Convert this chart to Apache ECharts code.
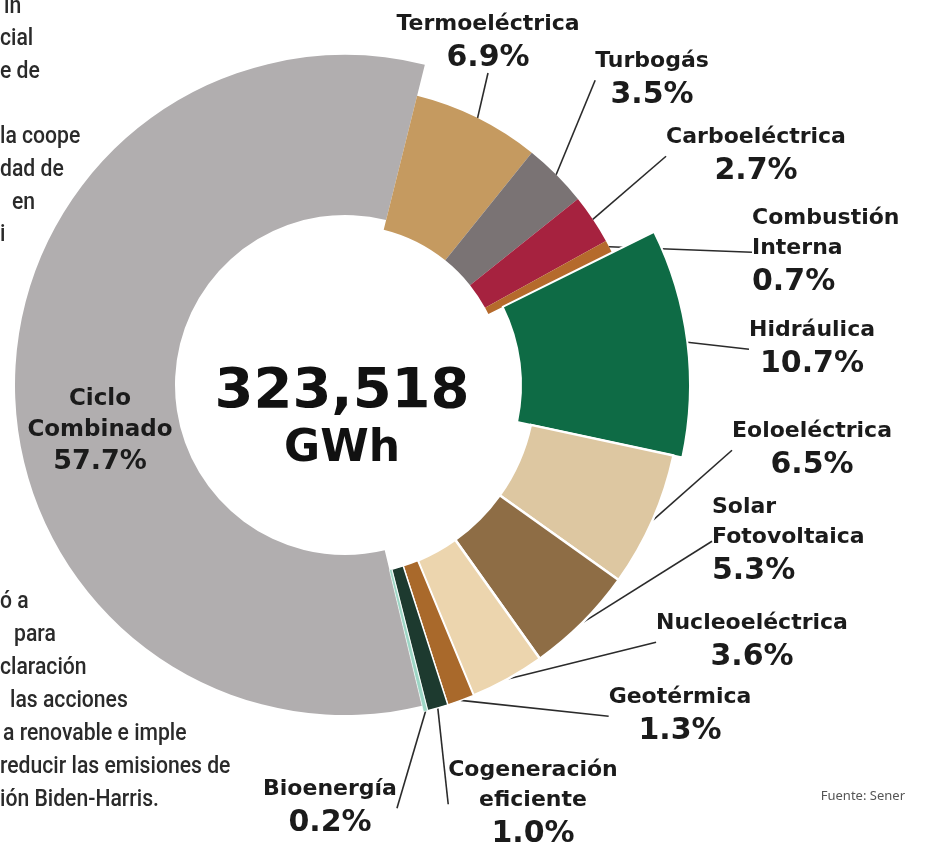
<!DOCTYPE html>
<html><head><meta charset="utf-8">
<script src="https://cdn.jsdelivr.net/npm/echarts@6/dist/echarts.min.js"></script>
<style>html,body{margin:0;padding:0;background:#fff}#chart{width:926px;height:848px}</style>
</head><body><div id="chart"></div>
<script>
// ---------- DATA ----------
const categories = ['Termoeléctrica','Turbogás','Carboeléctrica','Combustión Interna','Hidráulica','Eoloeléctrica','Solar Fotovoltaica','Nucleoeléctrica','Geotérmica','Cogeneración eficiente','Bioenergía','Ciclo Combinado'];
const shares = [6.9, 3.5, 2.7, 0.7, 10.7, 6.5, 5.3, 3.6, 1.3, 1.0, 0.2, 57.7];
const totalText = '323,518';
const unitText = 'GWh';
const sourceText = 'Fuente: Sener';
const columnTop = ['in','cial','e de','','la coope','dad de','en','i'];
const columnBottom = ['ó a','para','claración','las acciones','a renovable e imple','reducir las emisiones de','ión Biden-Harris.'];

// ---------- STYLE / LAYOUT ----------
const colors = ['#c59a60','#7a7374','#a6223f','#b56a2c','#0e6b45','#ddc7a1','#8e6d45','#ecd5ae','#a9692b','#1d3a2f','#9dd6c5','#b1aeaf'];
const lineBreaks = {'Combustión Interna':'Combustión\nInterna','Solar Fotovoltaica':'Solar\nFotovoltaica','Cogeneración eficiente':'Cogeneración\neficiente','Ciclo Combinado':'Ciclo\nCombinado'};
const labelSpots = [
  [488, 43, 'center'], [652, 80, 'center'], [756, 156, 'center'], [752, 252, 'left'],
  [812, 349, 'center'], [812, 450, 'center'], [712, 541, 'left'], [752, 642, 'center'],
  [680, 716, 'center'], [533, 804, 'center'], [330, 808, 'center'], [100, 431, 'center']
];
const borderOverride = {10: 0.6, 9: 1.5, 8: 1.5};
const rings = [
  {members:[11], radius:[170, 330], border:0},
  {members:[0,1,2,3], radius:[160, 298], border:0},
  {members:[4], radius:[176, 345], border:2},
  {members:[5,6,7,8,9,10], radius:[190, 336], border:2.5}
];
const center = [345, 385];
const FONT = 'DejaVu Sans';

function buildData(members){
  return categories.map((name, i) => {
    const vis = members.includes(i);
    const item = {name, value: shares[i]};
    if (vis) {
      item.itemStyle = {color: colors[i]};
      if (borderOverride[i] != null) item.itemStyle.borderWidth = borderOverride[i];
      item.label = {show: true};
      item.labelLine = {show: i !== 11};
      if (i === 11) item.label.rich = {n:{fontSize:23, lineHeight:31}, p:{fontSize:27, lineHeight:33}};
    } else {
      item.itemStyle = {color: 'rgba(0,0,0,0)', borderWidth: 0};
      item.label = {show: false};
      item.labelLine = {show: false};
    }
    return item;
  });
}

const series = rings.map(r => ({
  type: 'pie',
  center: center,
  radius: r.radius,
  startAngle: 76,
  clockwise: true,
  silent: true,
  animation: false,
  avoidLabelOverlap: false,
  itemStyle: {borderColor: '#ffffff', borderWidth: r.border},
  emphasis: {disabled: true},
  label: {
    position: 'outside',
    color: '#1b1b1b',
    fontFamily: FONT,
    formatter: p => '{n|' + (lineBreaks[p.name] || p.name) + '}\n{p|' + p.value.toFixed(1) + '%}',
    rich: {
      n: {fontFamily: FONT, fontWeight: 'bold', fontSize: 22, lineHeight: 30, color: '#1b1b1b'},
      p: {fontFamily: FONT, fontWeight: 'bold', fontSize: 30, lineHeight: 37, color: '#1b1b1b'}
    }
  },
  labelLine: {show: true, length: 10, length2: 0, smooth: false, lineStyle: {color: '#2b2b2b', width: 1.6}},
  labelLayout: function (params) {
    const s = labelSpots[params.dataIndex];
    return {x: s[0], y: s[1], align: s[2], verticalAlign: 'middle'};
  },
  data: buildData(r.members)
}));

const graphics = [
  {type:'text', style:{text: totalText, x: 342, y: 392, align:'center', verticalAlign:'middle', font: 'bold 56px "' + FONT + '"', fill:'#111'}},
  {type:'text', style:{text: unitText, x: 342, y: 450, align:'center', verticalAlign:'middle', font: 'bold 44px "' + FONT + '"', fill:'#111'}},
  {type:'text', style:{text: sourceText, x: 905, y: 796, align:'right', verticalAlign:'middle', font: '13px "Noto Sans"', fill:'#555'}}
];
const colFont = '500 23px Roboto';
const topY = [7, 39, 72, 104, 137, 170, 203, 235];
const topX = [4, 0, 0, 0, 0, 0, 12, 0];
columnTop.forEach((t, i) => { if (t) graphics.push({type:'text', x: topX[i], y: topY[i], scaleX: 0.92, style:{text:t, x: 0, y: 0, align:'left', verticalAlign:'middle', font: colFont, fill:'#2a2a2a'}}); });
const botY = [602, 635, 668, 701, 734, 767, 800];
const botX = [0, 14, 0, 10, 3, 0, 0];
columnBottom.forEach((t, i) => graphics.push({type:'text', x: botX[i], y: botY[i], scaleX: 0.92, style:{text:t, x: 0, y: 0, align:'left', verticalAlign:'middle', font: colFont, fill:'#2a2a2a'}}));

const chart = echarts.init(document.getElementById('chart'), null, {renderer: 'canvas'});
chart.setOption({
  backgroundColor: '#ffffff',
  animation: false,
  series: series,
  graphic: graphics
});
</script></body></html>
